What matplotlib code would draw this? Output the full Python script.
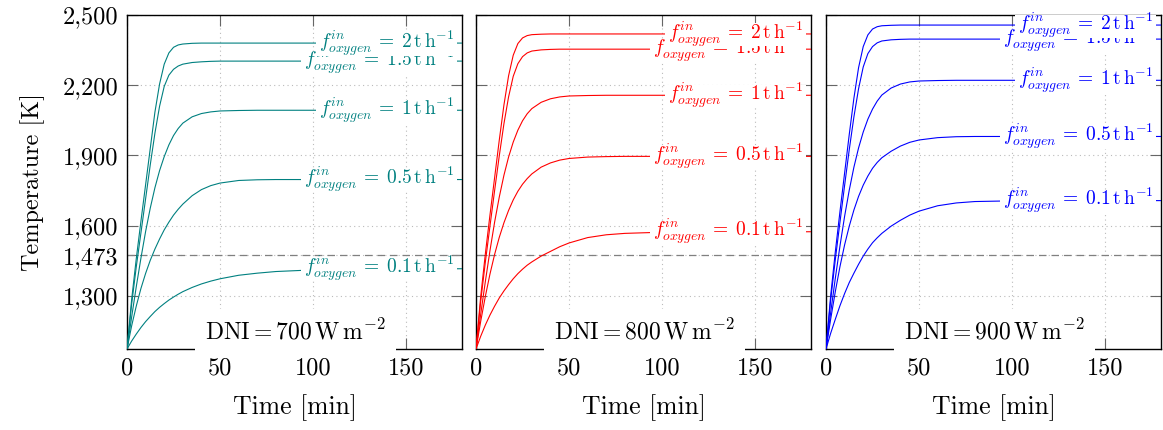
import numpy as np
import matplotlib.pyplot as plt
from matplotlib.patches import Rectangle

plt.rcParams['font.family'] = 'serif'
plt.rcParams['font.serif'] = ['cmr10']
plt.rcParams['mathtext.fontset'] = 'cm'
plt.rcParams['axes.unicode_minus'] = False

# time axis (min) shared by all curves
time_min = [0, 2.5, 5, 7.5, 10, 12.5, 15, 17.5, 20, 22.5, 25, 27.5, 30, 35, 40, 45, 50, 60, 70, 80, 100, 180]

# temperature [K], DNI = 700 W/m2
t700_f01 = [1073, 1107, 1137, 1165, 1190, 1212, 1233, 1251, 1267, 1282, 1295, 1307, 1318, 1336, 1351, 1363, 1373, 1388, 1397, 1404, 1411, 1416]
t700_f05 = [1073, 1172, 1257, 1332, 1396, 1452, 1500, 1543, 1582, 1615, 1645, 1670, 1692, 1728, 1754, 1771, 1782, 1793, 1796, 1797, 1797, 1797]
t700_f1 = [1073, 1210, 1340, 1462, 1575, 1675, 1762, 1835, 1895, 1945, 1985, 2015, 2038, 2065, 2079, 2086, 2090, 2092, 2093, 2093, 2093, 2093]
t700_f15 = [1073, 1265, 1425, 1570, 1715, 1860, 1995, 2110, 2195, 2243, 2268, 2282, 2290, 2297, 2300, 2302, 2303, 2303, 2303, 2303, 2303, 2303]
t700_f2 = [1073, 1285, 1460, 1620, 1775, 1930, 2085, 2205, 2290, 2338, 2362, 2372, 2376, 2379, 2380, 2380, 2380, 2380, 2380, 2380, 2380, 2380]

# DNI = 800 W/m2
t800_f01 = [1073, 1127, 1175, 1218, 1256, 1291, 1321, 1348, 1373, 1395, 1414, 1431, 1445, 1470, 1490, 1510, 1526, 1549, 1561, 1567, 1572, 1574]
t800_f05 = [1073, 1190, 1297, 1393, 1477, 1550, 1612, 1665, 1710, 1747, 1777, 1801, 1821, 1850, 1868, 1880, 1887, 1893, 1895, 1896, 1896, 1896]
t800_f1 = [1073, 1220, 1360, 1493, 1615, 1722, 1815, 1893, 1957, 2008, 2048, 2078, 2100, 2127, 2142, 2150, 2154, 2156, 2157, 2157, 2157, 2157]
t800_f15 = [1073, 1275, 1443, 1598, 1750, 1898, 2035, 2150, 2238, 2292, 2322, 2338, 2346, 2351, 2353, 2354, 2354, 2354, 2354, 2354, 2354, 2354]
t800_f2 = [1073, 1295, 1478, 1645, 1805, 1965, 2115, 2240, 2328, 2378, 2402, 2412, 2416, 2418, 2419, 2419, 2419, 2419, 2419, 2419, 2419, 2419]

# DNI = 900 W/m2
t900_f01 = [1073, 1140, 1200, 1258, 1310, 1357, 1397, 1435, 1470, 1500, 1527, 1548, 1567, 1598, 1623, 1645, 1662, 1685, 1697, 1703, 1706, 1707]
t900_f05 = [1073, 1200, 1318, 1425, 1518, 1598, 1667, 1725, 1773, 1812, 1845, 1870, 1890, 1918, 1940, 1956, 1966, 1976, 1980, 1981, 1981, 1981]
t900_f1 = [1073, 1228, 1375, 1513, 1640, 1752, 1850, 1932, 2000, 2055, 2098, 2132, 2158, 2188, 2205, 2214, 2218, 2220, 2221, 2221, 2221, 2221]
t900_f15 = [1073, 1282, 1455, 1615, 1772, 1925, 2065, 2185, 2278, 2335, 2365, 2381, 2389, 2394, 2396, 2397, 2397, 2397, 2397, 2397, 2397, 2397]
t900_f2 = [1073, 1300, 1488, 1660, 1825, 1990, 2145, 2275, 2365, 2415, 2440, 2450, 2454, 2456, 2457, 2457, 2457, 2457, 2457, 2457, 2457, 2457]

flow_labels = ['0.1', '0.5', '1', '1.5', '2']
dni_values = [700, 800, 900]
panel_colors = ['#008080', '#ff0000', '#0000ff']
panel_series = [
    [t700_f01, t700_f05, t700_f1, t700_f15, t700_f2],
    [t800_f01, t800_f05, t800_f1, t800_f15, t800_f2],
    [t900_f01, t900_f05, t900_f1, t900_f15, t900_f2],
]

yticks = [1300, 1473, 1600, 1900, 2200, 2500]
ytick_labels = ['1,300', '1,473', '1,600', '1,900', '2,200', '2,500']
xticks = [0, 50, 100, 150]

W, H = 1163, 430
fig = plt.figure(figsize=(W / 100, H / 100), dpi=100)
lefts = [127, 476, 826]
labels = []  # (axes, text, y value, zorder) for the white label backgrounds

for i in range(3):
    ax = fig.add_axes([lefts[i] / W, (H - 349) / H, 335 / W, 334 / H])
    color = panel_colors[i]

    # curves + inline labels (later labels sit on top of earlier ones)
    for k, (temps, flow) in enumerate(zip(panel_series[i], flow_labels)):
        ax.plot(time_min, temps, color=color, lw=0.8, zorder=3)
        txt = ax.annotate(r'$f^{in}_{oxygen} \:=\: %s\,\mathrm{t\,h^{-1}}$' % flow,
                          xy=(176, temps[-1]), xytext=(0, -3.4), textcoords='offset points',
                          color=color, fontsize=14, ha='right', va='baseline',
                          zorder=11 + 2 * k, annotation_clip=False)
        labels.append((ax, txt, temps[-1], 10 + 2 * k))

    # melting point of the slag
    ax.axhline(1473, color='#808080', lw=0.9, ls=(0, (6, 4)), zorder=2)

    ax.set_xlim(0, 180)
    ax.set_ylim(1073, 2500)
    ax.set_xticks(xticks)
    ax.set_xticklabels([str(x) for x in xticks])
    ax.set_yticks(yticks)
    if i == 0:
        ax.set_yticklabels(ytick_labels)
        ax.set_ylabel('Temperature [K]', fontsize=17.5, labelpad=13)
    else:
        ax.set_yticklabels([])
    ax.set_xlabel('Time [min]', fontsize=18.5, labelpad=11)

    ax.grid(True, ls=(0, (1, 3)), color='#bbbbbb', lw=0.8, zorder=1)
    ax.tick_params(direction='in', top=True, right=True, length=8, width=0.8,
                   color='#666666', labelsize=17.5, pad=6)
    for sp in ax.spines.values():
        sp.set_linewidth(1.0)

    ax.text(0.503, 0.052, r'$\mathrm{DNI} = %d\,\mathrm{W\,m^{-2}}$' % dni_values[i],
            transform=ax.transAxes, fontsize=17, ha='center', va='center', zorder=30,
            clip_on=False,
            bbox=dict(facecolor='white', edgecolor='none', boxstyle='square,pad=0.42'))

# white boxes behind the labels (cover the line, and partly the label below)
fig.canvas.draw()
renderer = fig.canvas.get_renderer()
for ax, txt, yval, z in labels:
    bb = txt.get_window_extent(renderer)
    _, yline = ax.transData.transform((0, yval))
    x0, x1 = bb.x0 - 3, bb.x1 + 2
    y0, y1 = yline - 12.5, yline + 10.5
    rect = Rectangle((x0 / W, y0 / H), (x1 - x0) / W, (y1 - y0) / H,
                     transform=fig.transFigure, facecolor='white', edgecolor='none',
                     zorder=z, clip_on=False)
    ax.add_patch(rect)

fig.savefig('out.png', dpi=100)
